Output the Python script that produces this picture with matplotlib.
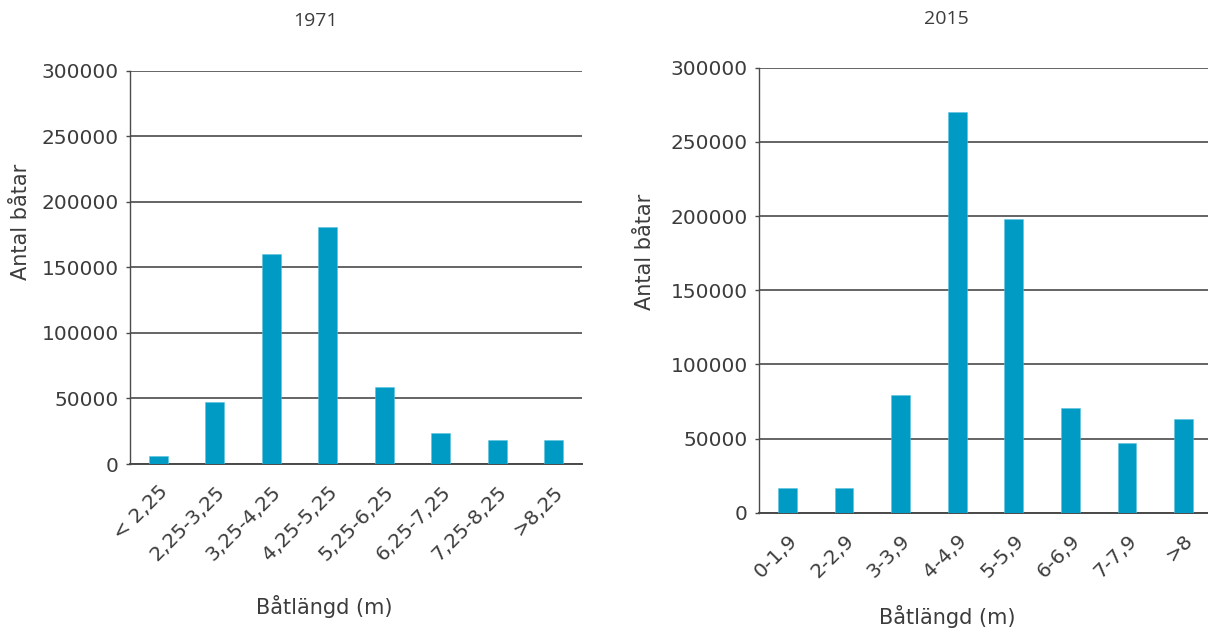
import matplotlib
matplotlib.use("Agg")
import matplotlib.pyplot as plt

# Boat length classes and counts
lengths_1971 = ['< 2,25', '2,25-3,25', '3,25-4,25', '4,25-5,25',
                '5,25-6,25', '6,25-7,25', '7,25-8,25', '>8,25']
boats_1971 = [6000, 47000, 160000, 181000, 58500, 24000, 18000, 18000]

lengths_2015 = ['0-1,9', '2-2,9', '3-3,9', '4-4,9', '5-5,9', '6-6,9', '7-7,9', '>8']
boats_2015 = [16500, 16500, 79500, 270000, 198000, 70500, 47000, 63500]

yticks = [0, 50000, 100000, 150000, 200000, 250000, 300000]

bar_color = '#009bc4'
line_color = '#4a4a4a'
text_color = '#3c3c3c'

plt.rcParams['font.family'] = ['DejaVu Sans']

fig = plt.figure(figsize=(12.08, 6.3), dpi=100)
W, H = 1208, 630


def make_axes(left, right, top, bottom):
    # axes box given in pixel coordinates of the reference
    return fig.add_axes([left / W, 1 - bottom / H, (right - left) / W, (bottom - top) / H])


def draw_panel(ax, labels, values, title, title_xy, ylabel_xy, xlabel_xy):
    x = range(len(labels))
    ax.bar(x, values, width=0.33, color=bar_color, edgecolor='#5cc3df', linewidth=0.4, zorder=3)
    ax.set_xlim(-0.5, len(labels) - 0.5)
    ax.set_ylim(0, 300000)
    ax.set_yticks(yticks)
    ax.set_yticklabels([str(t) for t in yticks])
    ax.grid(axis='y', color=line_color, linewidth=1.2, zorder=1)
    ax.set_axisbelow(True)
    for s in ['top', 'right']:
        ax.spines[s].set_visible(False)
    ax.spines['left'].set_color(line_color)
    ax.spines['left'].set_linewidth(1.0)
    ax.spines['bottom'].set_color(line_color)
    ax.spines['bottom'].set_linewidth(1.4)
    ax.tick_params(axis='y', length=3, width=1, color=line_color, pad=5,
                   labelsize=14.5, labelcolor=text_color)
    ax.set_xticks(list(x))
    ax.set_xticklabels(labels, rotation=45, ha='right', va='top', rotation_mode='anchor')
    ax.tick_params(axis='x', length=0, pad=13, labelsize=14.5, labelcolor=text_color)

    fig.text(title_xy[0] / W, 1 - title_xy[1] / H, title, ha='center', va='center',
             fontsize=14, color=text_color, family='Open Sans')
    fig.text(ylabel_xy[0] / W, 1 - ylabel_xy[1] / H, 'Antal båtar', rotation=90,
             ha='center', va='center', fontsize=15, color=text_color)
    fig.text(xlabel_xy[0] / W, 1 - xlabel_xy[1] / H, 'Båtlängd (m)', ha='center', va='center',
             fontsize=15, color=text_color)


ax1 = make_axes(130, 582, 70.7, 464)
draw_panel(ax1, lengths_1971, boats_1971, '1971', (315, 21), (21, 222), (324, 607))

ax2 = make_axes(759, 1212, 67.7, 512.7)
draw_panel(ax2, lengths_2015, boats_2015, '2015', (946, 19), (645, 252), (947, 616))

fig.savefig('out.png', dpi=100)
